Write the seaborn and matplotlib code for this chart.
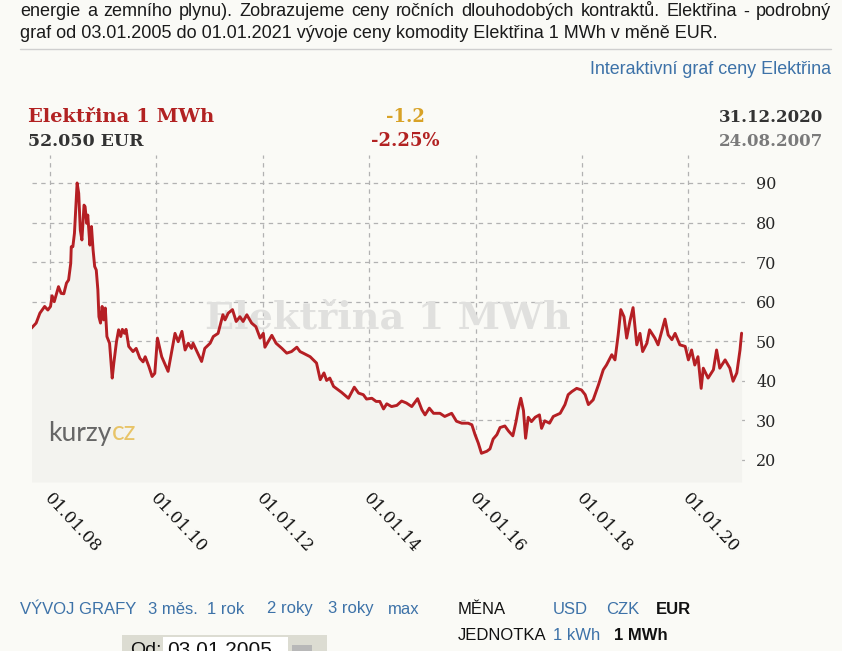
import matplotlib
matplotlib.use("Agg")
import matplotlib.pyplot as plt
import matplotlib.patches as mpatches
from matplotlib.transforms import ScaledTranslation
import seaborn as sns
import pandas as pd

# cena Elektřina 1 MWh v EUR (rok jako desetinné číslo)
years = [
    2007.65, 2007.74, 2007.81, 2007.90, 2007.96, 2008.01, 2008.04, 2008.08, 2008.16, 2008.21,
    2008.26, 2008.31, 2008.35, 2008.39, 2008.40, 2008.43, 2008.46, 2008.51, 2008.54, 2008.57,
    2008.60, 2008.64, 2008.66, 2008.69, 2008.71, 2008.75, 2008.78, 2008.81, 2008.84, 2008.87,
    2008.90, 2008.92, 2008.95, 2008.98, 2009.01, 2009.04, 2009.07, 2009.12, 2009.17, 2009.20,
    2009.25, 2009.29, 2009.33, 2009.36, 2009.40, 2009.43, 2009.48, 2009.56, 2009.62, 2009.69,
    2009.75, 2009.79, 2009.86, 2009.92, 2009.97, 2010.02, 2010.10, 2010.22, 2010.35, 2010.41,
    2010.48, 2010.54, 2010.60, 2010.66, 2010.69, 2010.85, 2010.91, 2011.01, 2011.07, 2011.16,
    2011.21, 2011.25, 2011.29, 2011.35, 2011.43, 2011.50, 2011.57, 2011.63, 2011.70, 2011.79,
    2011.87, 2011.95, 2012.01, 2012.04, 2012.10, 2012.17, 2012.25, 2012.36, 2012.45, 2012.54,
    2012.64, 2012.70, 2012.76, 2012.89, 2013.01, 2013.08, 2013.15, 2013.20, 2013.26, 2013.33,
    2013.48, 2013.61, 2013.72, 2013.80, 2013.89, 2013.95, 2014.05, 2014.13, 2014.20, 2014.27,
    2014.33, 2014.42, 2014.52, 2014.61, 2014.70, 2014.80, 2014.91, 2014.99, 2015.05, 2015.13,
    2015.21, 2015.33, 2015.42, 2015.55, 2015.64, 2015.74, 2015.86, 2015.93, 2015.99, 2016.05,
    2016.11, 2016.21, 2016.27, 2016.33, 2016.40, 2016.46, 2016.55, 2016.62, 2016.70, 2016.76,
    2016.80, 2016.85, 2016.90, 2016.94, 2016.99, 2017.05, 2017.12, 2017.20, 2017.24, 2017.30,
    2017.39, 2017.46, 2017.59, 2017.68, 2017.74, 2017.81, 2017.90, 2017.99, 2018.06, 2018.12,
    2018.21, 2018.31, 2018.40, 2018.46, 2018.56, 2018.62, 2018.68, 2018.73, 2018.79, 2018.84,
    2018.90, 2018.96, 2019.03, 2019.09, 2019.14, 2019.22, 2019.27, 2019.37, 2019.43, 2019.56,
    2019.62, 2019.69, 2019.75, 2019.84, 2019.94, 2020.00, 2020.06, 2020.12, 2020.18, 2020.24,
    2020.28, 2020.37, 2020.47, 2020.53, 2020.59, 2020.69, 2020.78, 2020.84, 2020.91, 2020.97,
    2021.00,
]
prices = [
    53.3, 54.6, 57.1, 58.8, 57.9, 58.8, 61.5, 60.0, 63.8, 62.1,
    62.0, 64.7, 65.5, 69.7, 73.9, 73.9, 77.3, 90.0, 87.4, 78.1,
    75.6, 84.4, 84.0, 79.8, 81.9, 74.3, 79.0, 73.1, 68.9, 68.0,
    63.0, 56.2, 54.6, 58.8, 55.4, 58.4, 51.2, 49.5, 40.7, 44.5,
    49.9, 52.9, 51.2, 53.0, 52.0, 53.0, 48.7, 47.4, 48.2, 45.7,
    44.8, 46.1, 43.6, 41.1, 41.9, 50.8, 46.1, 42.4, 52.0, 49.9,
    52.5, 47.8, 49.5, 48.2, 49.5, 44.9, 48.2, 49.5, 51.2, 52.0,
    54.6, 56.7, 55.4, 57.1, 58.0, 55.0, 56.2, 55.0, 56.7, 54.6,
    53.7, 50.8, 52.0, 48.5, 49.9, 51.5, 49.5, 48.2, 47.0, 47.4,
    48.5, 47.4, 47.0, 46.1, 44.5, 40.3, 42.0, 40.1, 40.7, 38.6,
    37.1, 35.6, 38.4, 36.9, 36.5, 35.4, 35.6, 34.8, 34.8, 32.9,
    34.2, 33.5, 33.8, 34.9, 34.4, 33.5, 35.5, 32.7, 31.4, 33.1,
    31.8, 31.8, 31.0, 31.8, 29.8, 29.3, 29.3, 28.9, 26.4, 24.3,
    21.7, 22.2, 22.8, 25.3, 26.4, 28.2, 28.6, 27.3, 26.1, 29.7,
    32.7, 35.6, 32.5, 25.5, 30.8, 29.7, 30.8, 31.4, 28.0, 29.9,
    29.3, 31.0, 31.8, 34.0, 36.5, 37.3, 38.1, 37.7, 36.5, 34.0,
    35.2, 39.0, 42.8, 44.0, 46.6, 45.3, 51.6, 58.0, 56.2, 50.8,
    55.0, 58.5, 49.1, 52.0, 47.4, 49.5, 52.9, 50.8, 49.1, 55.6,
    51.6, 50.4, 52.0, 49.1, 48.7, 45.3, 47.8, 44.0, 46.1, 38.1,
    43.2, 40.7, 42.8, 47.8, 43.2, 45.3, 43.2, 39.9, 42.0, 47.8,
    52.05,
]

xtick_years = [2008, 2010, 2012, 2014, 2016, 2018, 2020]
xtick_labels = ["01.01.08", "01.01.10", "01.01.12", "01.01.14", "01.01.16", "01.01.18", "01.01.20"]
ytick_values = [20, 30, 40, 50, 60, 70, 80, 90]

W, H = 842, 651
BG = "#fafaf6"
BLUE = "#3d72a8"
RED = "#b51f24"

sns.set_theme(style="white")
plt.rcParams["font.family"] = ["Liberation Sans", "DejaVu Sans"]

fig = plt.figure(figsize=(W / 100, H / 100), dpi=100, facecolor=BG)


def fx(x):
    return x / W


def fy(y):
    return 1 - y / H


# hlavni graf
ax = fig.add_axes([fx(32), fy(482), (745 - 32) / W, (482 - 155) / H])
ax.set_facecolor(BG)
df = pd.DataFrame({"rok": years, "cena": prices})
ymin, ymax = 14.44, 97.07
ax.fill_between(df["rok"], df["cena"], ymin, color="#f3f3ef", lw=0, zorder=1)
sns.lineplot(data=df, x="rok", y="cena", ax=ax, color=RED, lw=2.1, zorder=3)
ax.set_xlim(2007.662, 2021.064)
ax.set_ylim(ymin, ymax)
for sp in ax.spines.values():
    sp.set_visible(False)
ax.set_xlabel("")
ax.set_ylabel("")
ax.set_xticks(xtick_years)
ax.set_xticklabels([])
ax.set_yticks(ytick_values)
ax.set_yticklabels([str(v) for v in ytick_values], family="DejaVu Serif", fontsize=11.5)
ax.yaxis.tick_right()
ax.tick_params(axis="both", length=0)
ax.tick_params(axis="y", pad=8)
ax.grid(True, color="#b2b2b2", linestyle=(0, (3.5, 3.5)), lw=0.9)
ax.set_axisbelow(True)

# popisky datumu sikmo pod osou
lab_tr = ax.get_xaxis_transform() + ScaledTranslation(3 / 100, -8 / 100, fig.dpi_scale_trans)
for yr, lab in zip(xtick_years, xtick_labels):
    ax.text(yr, 0, lab, transform=lab_tr, rotation=-47, ha="left", va="top",
            rotation_mode="anchor", family="DejaVu Serif", fontsize=12, color="#111111")

# vodoznak a logo
ax.text(fx(388), fy(318), "Elektřina 1 MWh", transform=fig.transFigure, ha="center",
        va="center", family="DejaVu Serif", weight="bold", fontsize=27.5,
        color="#e0e0de", zorder=2)

r = fig.canvas.get_renderer()
k1 = fig.text(fx(48), fy(433), "kurzy", family="Lato", fontsize=19,
              color="#666666", va="center")
kw = k1.get_window_extent(r).width
fig.text(fx(48 + kw), fy(433), "cz", family="Lato", fontsize=19,
         color="#e8c468", va="center")

# hlavicka
fig.text(fx(28), fy(117), "Elektřina 1 MWh", family="DejaVu Serif", weight="bold",
         fontsize=14, color="#b22222", va="center")
fig.text(fx(28), fy(141), "52.050 EUR", family="DejaVu Serif", weight="bold",
         fontsize=12.5, color="#333333", va="center")
fig.text(fx(405), fy(117), "-1.2", family="DejaVu Serif", weight="bold",
         fontsize=13, color="#d8a227", va="center", ha="center")
fig.text(fx(405), fy(141), "-2.25%", family="DejaVu Serif", weight="bold",
         fontsize=13, color="#b22222", va="center", ha="center")
fig.text(fx(823), fy(117), "31.12.2020", family="DejaVu Serif", weight="bold",
         fontsize=12, color="#333333", va="center", ha="right")
fig.text(fx(823), fy(141), "24.08.2007", family="DejaVu Serif", weight="bold",
         fontsize=12, color="#7a7a7a", va="center", ha="right")


def justify_line(text, x0, x1, y, **kw):
    words = text.split(" ")
    arts = [fig.text(0, fy(y), w, va="center", **kw) for w in words]
    widths = [a.get_window_extent(r).width for a in arts]
    gap = (x1 - x0 - sum(widths)) / (len(words) - 1)
    x = x0
    for a, w in zip(arts, widths):
        a.set_x(fx(x))
        x += w + gap


# text nad grafem
justify_line("energie a zemního plynu). Zobrazujeme ceny ročních dlouhodobých kontraktů. "
             "Elektřina - podrobný", 20, 831, 12, fontsize=13, color="#1a1a1a")
fig.text(fx(20), fy(33), "graf od 03.01.2005 do 01.01.2021 vývoje ceny komodity "
         "Elektřina 1 MWh v měně EUR.", fontsize=13, color="#1a1a1a", va="center")
fig.add_artist(plt.Line2D([fx(20), fx(831)], [fy(49), fy(49)], color="#cfcfcf", lw=1))
fig.text(fx(831), fy(70), "Interaktivní graf ceny Elektřina", fontsize=12.9, color=BLUE,
         va="center", ha="right")

# odkazy pod grafem
links = [("VÝVOJ GRAFY", 20), ("3 měs.", 148), ("1 rok", 207), ("2 roky", 267),
         ("3 roky", 328), ("max", 388), ("USD", 553), ("CZK", 606)]
for txt, x in links:
    fig.text(fx(x), fy(609), txt, fontsize=12, color=BLUE, va="center")
fig.text(fx(458), fy(609), "MĚNA", fontsize=12, color="#111111", va="center")
fig.text(fx(656), fy(609), "EUR", fontsize=12, color="#111111", va="center", weight="bold")
fig.text(fx(458), fy(636), "JEDNOTKA", fontsize=12, color="#111111", va="center")
fig.text(fx(553), fy(636), "1 kWh", fontsize=12, color=BLUE, va="center")
fig.text(fx(614), fy(636), "1 MWh", fontsize=12, color="#111111", va="center", weight="bold")

# formular s datem (oriznuty jako na strance)
fig.add_artist(mpatches.Rectangle((fx(122), fy(651)), (327 - 122) / W, 16 / H,
                                  transform=fig.transFigure, color="#dcdcd2", lw=0))
fig.add_artist(mpatches.Rectangle((fx(163), fy(651)), (288 - 163) / W, 14 / H,
                                  transform=fig.transFigure, color="white", lw=0))
fig.add_artist(mpatches.Rectangle((fx(292), fy(651)), 20 / W, 6 / H,
                                  transform=fig.transFigure, color="#b8b8b8", lw=0))
fig.text(fx(130), fy(642), "Od:", fontsize=14, color="#111111", va="top")
fig.text(fx(167), fy(641), "03.01.2005", fontsize=15, color="#111111", va="top")

fig.savefig("out.png", dpi=100, facecolor=BG)
